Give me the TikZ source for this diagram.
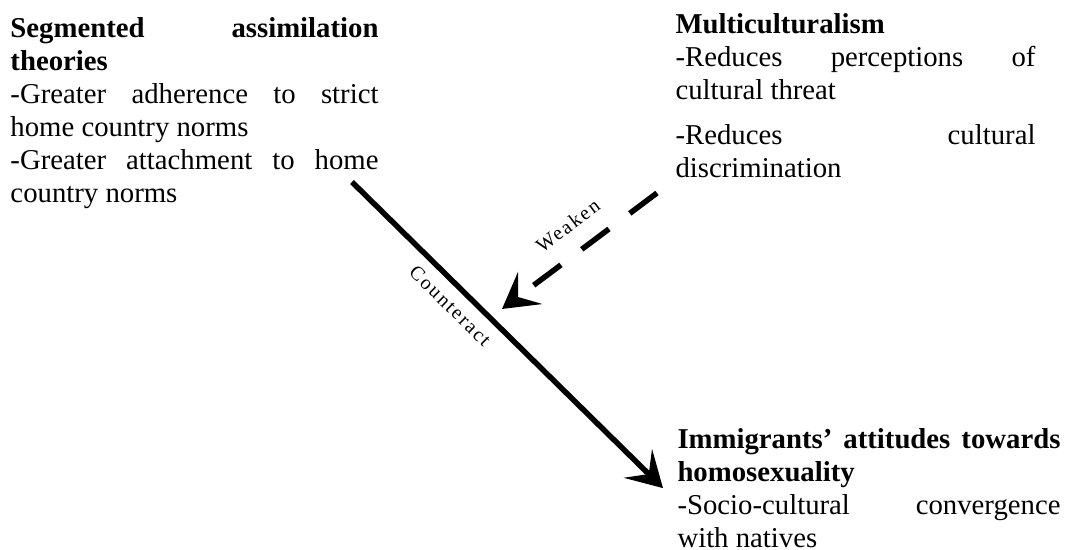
\documentclass[tikz,border=0pt]{standalone}
\usepackage{fontspec}
\setmainfont{Liberation Serif}
\usepackage{tikz}
\usetikzlibrary{arrows.meta,positioning}
\tikzstyle{textblock} = [inner sep=0pt, anchor=north west, align=justify,
    font=\fontsize{11.5}{13.2}\selectfont]
\tikzstyle{arrow} = [-{Stealth[length=14pt, width=16pt, inset=6pt]}, line width=2.2pt, black]
\tikzstyle{weakarrow} = [arrow, dash pattern=on 13.6pt off 10.4pt]
\tikzstyle{edgelabel} = [sloped, inner sep=2pt,
    font=\fontsize{8}{9}\selectfont\addfontfeature{LetterSpace=10}]

\begin{document}
\begin{tikzpicture}[x=0.4pt, y=-0.4pt]
\useasboundingbox (0,0) rectangle (1068,550);
\node[textblock, text width=147.2pt] (seg) at (10,17)
    {\textbf{Segmented assimilation\linebreak theories}\par
     -Greater adherence to strict\linebreak home country norms\par
     -Greater attachment to home\linebreak country norms};
\node[textblock, text width=144pt] (multi) at (675,13)
    {\textbf{Multiculturalism}\par
     -Reduces perceptions of\linebreak cultural threat\par\vspace{4.8pt}
     -Reduces cultural\linebreak discrimination};
\node[textblock, text width=153.2pt] (imm) at (677,428)
    {\textbf{Immigrants’ attitudes towards\linebreak homosexuality}\par
     -Socio-cultural convergence\linebreak with natives};
% free ends of the connectors
\coordinate (segout) at (352,182);
\coordinate (multiout) at (657,193);
\coordinate (weakenpt) at (502,309);
\draw[arrow] (segout) -- ([xshift=-5.6pt]imm.west)
    node[edgelabel, pos=0.36, below=2pt] (counteract) {Counteract};
\draw[weakarrow] (multiout) -- (weakenpt)
    node[edgelabel, pos=0.47, above=5pt] (weaken) {Weaken};
\end{tikzpicture}
\end{document}
